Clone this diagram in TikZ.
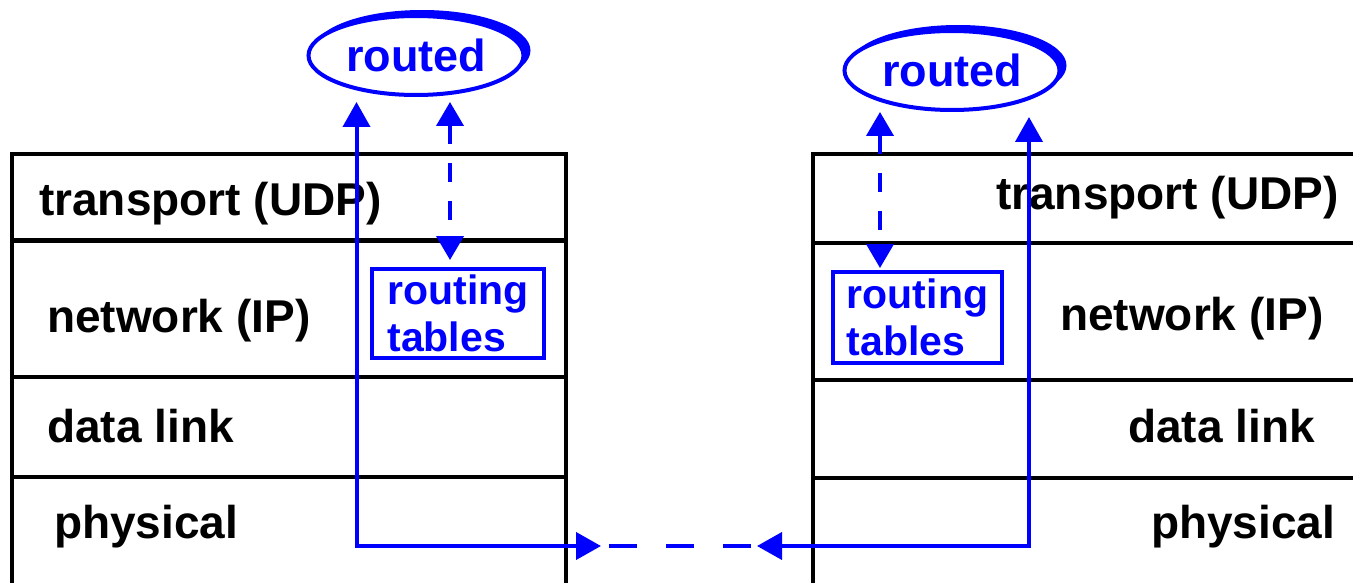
\documentclass[tikz,border=0pt]{standalone}
\usepackage{fontspec}
\setmainfont{Liberation Sans}
\usetikzlibrary{arrows.meta,shapes.geometric}
\definecolor{netblue}{RGB}{0,0,255}
\begin{document}
\begin{tikzpicture}[x=1pt,y=1pt,
  stackrow/.style={rectangle, draw=black, line width=4.5pt, inner sep=0pt, outer sep=0pt, anchor=north west},
  layertext/.style={anchor=base west, inner sep=0pt, font=\fontsize{46}{50}\selectfont\bfseries, text=black},
  daemon/.style={ellipse, draw=netblue, fill=white, line width=4pt, minimum width=215pt, minimum height=79pt, inner sep=0pt, text=netblue, font=\fontsize{45}{50}\selectfont\bfseries},
  tablebox/.style={rectangle, draw=netblue, line width=4pt, inner sep=0pt, align=left, text=netblue, font=\fontsize{41}{47}\selectfont\bfseries},
  blueline/.style={draw=netblue, line width=4pt},
  solidlink/.style={blueline, {Triangle[length=25pt,width=27pt]}-{Triangle[length=25pt,width=27pt]}},
  dashlink/.style={blueline, dash pattern=on 19pt off 19pt, {Triangle[length=24pt,width=27pt]}-{Triangle[length=24pt,width=27pt]}},
]
\useasboundingbox (0,0) rectangle (1353,-583);
\clip (0,0) rectangle (1353,-583);

% left protocol stack
\node[stackrow, minimum width=554pt, minimum height=86.5pt] (Ltr) at (12,-154) {};
\node[stackrow, minimum width=554pt, minimum height=136.5pt] (Lnw) at (12,-240.5) {};
\node[stackrow, minimum width=554pt, minimum height=100pt] (Ldl) at (12,-377) {};
\node[stackrow, minimum width=554pt, minimum height=130pt] (Lph) at (12,-477) {};
\node[layertext] (LtrT) at (39,-215) {transport (UDP)};
\node[layertext] (LnwT) at (47,-332) {network (IP)};
\node[layertext] (LdlT) at (47,-442) {data link};
\node[layertext] (LphT) at (54,-538) {physical};

% right protocol stack
\node[stackrow, minimum width=600pt, minimum height=89pt] (Rtr) at (813,-154) {};
\node[stackrow, minimum width=600pt, minimum height=137pt] (Rnw) at (813,-243) {};
\node[stackrow, minimum width=600pt, minimum height=98pt] (Rdl) at (813,-380) {};
\node[stackrow, minimum width=600pt, minimum height=130pt] (Rph) at (813,-478) {};
\node[layertext] (RtrT) at (996,-210) {transport (UDP)};
\node[layertext] (RnwT) at (1060,-330) {network (IP)};
\node[layertext] (RdlT) at (1128,-442) {data link};
\node[layertext] (RphT) at (1151,-538) {physical};

% routed daemons
\coordinate (cL) at (416,-55.5);
\coordinate (cR) at (952,-70.5);
\fill[netblue] ([shift={(6,5)}]cL) ellipse [x radius=108.5pt, y radius=40.5pt];
\fill[netblue] ([shift={(6,5)}]cR) ellipse [x radius=108.5pt, y radius=40.5pt];
\node[daemon] (routedL) at (cL) {routed};
\node[daemon] (routedR) at (cR) {routed};

% routing tables
\node[tablebox, minimum width=172pt, minimum height=89pt] (rtL) at (458,-313.5) {routing\\tables};
\node[tablebox, minimum width=169pt, minimum height=91pt] (rtR) at (917.5,-317.5) {routing\\tables};

% connectors
\coordinate (bendL) at (356.5,-546);
\coordinate (linkL) at (601,-546);
\coordinate (bendR) at (1029,-546);
\coordinate (linkR) at (757,-546);
\coordinate (dropL) at (450,-150);
\coordinate (dropR) at (880,-150);

\draw[solidlink, shorten <=5pt] (bendL |- routedL.south) -- (bendL) -- (linkL);
\draw[solidlink, shorten <=5pt] (bendR |- routedR.south) -- (bendR) -- (linkR);
\draw[blueline, dash pattern=on 28pt off 29pt, shorten <=8pt, shorten >=6pt] (linkL) -- (linkR);
\draw[dashlink, shorten <=5pt, shorten >=7pt] (routedL.south -| dropL) -- (rtL.north -| dropL);
\draw[dashlink, shorten >=2pt] (routedR.south -| dropR) -- (rtR.north -| dropR);
\end{tikzpicture}
\end{document}
